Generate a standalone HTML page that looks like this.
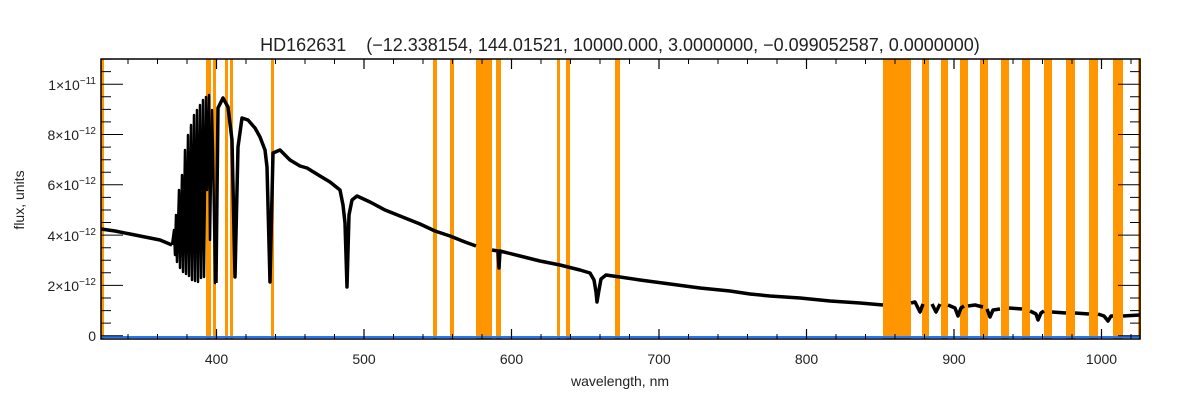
<!DOCTYPE html>
<html><head><meta charset="utf-8"><style>
html,body{margin:0;padding:0;background:#fff;}
svg{display:block;font-family:"Liberation Sans",sans-serif;}
</style></head><body>
<svg width="1200" height="400" viewBox="0 0 1200 400" xmlns="http://www.w3.org/2000/svg">
<rect width="1200" height="400" fill="#fff"/>
<g fill="#ff9600">
<rect x="101" y="59" width="3" height="280"/>
<rect x="206" y="59" width="5" height="280"/>
<rect x="213" y="59" width="3" height="280"/>
<rect x="225" y="59" width="3" height="280"/>
<rect x="230" y="59" width="3" height="280"/>
<rect x="271" y="59" width="3" height="280"/>
<rect x="433" y="59" width="4" height="280"/>
<rect x="450" y="59" width="4" height="280"/>
<rect x="476" y="59" width="16" height="280"/>
<rect x="496" y="59" width="5" height="280"/>
<rect x="557" y="59" width="3" height="280"/>
<rect x="566" y="59" width="4" height="280"/>
<rect x="615" y="59" width="5" height="280"/>
<rect x="883" y="59" width="28" height="280"/>
<rect x="922" y="59" width="7" height="280"/>
<rect x="941" y="59" width="7" height="280"/>
<rect x="960" y="59" width="8" height="280"/>
<rect x="980" y="59" width="8" height="280"/>
<rect x="1001" y="59" width="8" height="280"/>
<rect x="1022" y="59" width="8" height="280"/>
<rect x="1044" y="59" width="8" height="280"/>
<rect x="1066" y="59" width="9" height="280"/>
<rect x="1089" y="59" width="9" height="280"/>
<rect x="1113" y="59" width="10" height="280"/>
<rect x="1138" y="59" width="3" height="280"/>
</g>
<line x1="101" y1="337" x2="1140" y2="337" stroke="#1e78ff" stroke-width="2"/>
<g fill="none" stroke="#000" stroke-width="3.5" stroke-linejoin="round">
<polyline stroke-width="2.5" points="172,245 174,230 175,255 176,215 177,262 179,190 180,268 182,175 183,272 185,150 186,274 188,135 189,276 191,125 192,280 194,115 195,281 197,110 198,282 200,105 201,278 203,100 204,277 206,97 207,190 209,95 210,240 212,110 213,150 215,283 216,283"/>
<polyline points="101,229 115,231 130,234 145,237 160,240 172,245"/>
<polyline points="216,283 218,108 223,98 228,107 232,140 235,277 238,147 242,118 248,120 255,128 260,137 265,150 267,167 270,282 273,153 280,150 290,160 300,166 307,168 320,176 330,182 340,190 343,205 345,223 347,287 349,215 352,200 357,196 370,202 385,210 400,216 420,224 435,231 450,236 465,242 476,246"/>
<polyline points="492,250 498,251 499,268 500,251 520,256 540,261 560,265 580,270 590,273 594,280 596,292 597,302 599,290 601,279 606,275 620,277 640,280 670,284 700,288 730,291 750,294 770,296 800,298 830,301 860,303 883,305"/>
<polyline points="911,303 915,302 918,308 920,312 923,304"/>
<polyline points="932,304 936,312 940,304"/>
<polyline points="948,305 955,308 958,316 961,308 964,306"/>
<polyline points="968,306 975,305 983,307"/>
<polyline points="987,309 990,317 993,310 1000,309"/>
<polyline points="1009,308 1022,309"/>
<polyline points="1030,311 1036,314 1038,320 1041,313 1044,311"/>
<polyline points="1052,312 1066,313"/>
<polyline points="1075,313 1089,314"/>
<polyline points="1098,314 1104,316 1108,321 1111,316 1113,316"/>
<polyline points="1123,316 1140,315"/>
</g>
<rect x="101" y="59" width="1039" height="280" fill="none" stroke="#000" stroke-width="1.5"/>
<g stroke="#000" stroke-width="1.2">
<line x1="216.5" y1="339" x2="216.5" y2="329"/><line x1="216.5" y1="59" x2="216.5" y2="69"/>
<line x1="364" y1="339" x2="364" y2="329"/><line x1="364" y1="59" x2="364" y2="69"/>
<line x1="511.5" y1="339" x2="511.5" y2="329"/><line x1="511.5" y1="59" x2="511.5" y2="69"/>
<line x1="659" y1="339" x2="659" y2="329"/><line x1="659" y1="59" x2="659" y2="69"/>
<line x1="806.5" y1="339" x2="806.5" y2="329"/><line x1="806.5" y1="59" x2="806.5" y2="69"/>
<line x1="954" y1="339" x2="954" y2="329"/><line x1="954" y1="59" x2="954" y2="69"/>
<line x1="1101.5" y1="339" x2="1101.5" y2="329"/><line x1="1101.5" y1="59" x2="1101.5" y2="69"/>
</g>
<g stroke="#000" stroke-width="1">
<path d="M128.0 339v-5M157.5 339v-5M187.0 339v-5M246.0 339v-5M275.5 339v-5M305.0 339v-5M334.5 339v-5M393.5 339v-5M423.0 339v-5M452.5 339v-5M482.0 339v-5M541.0 339v-5M570.5 339v-5M600.0 339v-5M629.5 339v-5M688.5 339v-5M718.0 339v-5M747.5 339v-5M777.0 339v-5M836.0 339v-5M865.5 339v-5M895.0 339v-5M924.5 339v-5M983.5 339v-5M1013.0 339v-5M1042.5 339v-5M1072.0 339v-5M1131.0 339v-5
M128.0 59v5M157.5 59v5M187.0 59v5M246.0 59v5M275.5 59v5M305.0 59v5M334.5 59v5M393.5 59v5M423.0 59v5M452.5 59v5M482.0 59v5M541.0 59v5M570.5 59v5M600.0 59v5M629.5 59v5M688.5 59v5M718.0 59v5M747.5 59v5M777.0 59v5M836.0 59v5M865.5 59v5M895.0 59v5M924.5 59v5M983.5 59v5M1013.0 59v5M1042.5 59v5M1072.0 59v5M1131.0 59v5"/>
<path d="M101 335.7h22M101 285.4h22M101 235.1h22M101 184.8h22M101 134.5h22M101 84.2h22
M1140 335.7h-22M1140 285.4h-22M1140 235.1h-22M1140 184.8h-22M1140 134.5h-22M1140 84.2h-22
M101 323.1h10M101 310.6h10M101 298.0h10M101 272.8h10M101 260.3h10M101 247.7h10M101 222.5h10M101 210.0h10M101 197.4h10M101 172.2h10M101 159.7h10M101 147.1h10M101 121.9h10M101 109.4h10M101 96.8h10M101 71.6h10M101 59.1h10
M1140 323.1h-10M1140 310.6h-10M1140 298.0h-10M1140 272.8h-10M1140 260.3h-10M1140 247.7h-10M1140 222.5h-10M1140 210.0h-10M1140 197.4h-10M1140 172.2h-10M1140 159.7h-10M1140 147.1h-10M1140 121.9h-10M1140 109.4h-10M1140 96.8h-10M1140 71.6h-10"/>
</g>
<g font-size="14" fill="#222" text-anchor="middle">
<text x="216.5" y="364">400</text>
<text x="364" y="364">500</text>
<text x="511.5" y="364">600</text>
<text x="659" y="364">700</text>
<text x="806.5" y="364">800</text>
<text x="954" y="364">900</text>
<text x="1101.5" y="364">1000</text>
<text x="620" y="386">wavelength, nm</text>
<text x="24" y="200" transform="rotate(-90 24 200)">flux, units</text>
</g>
<g font-size="14" fill="#222" text-anchor="end">
<text x="96" y="341">0</text>
<text x="96" y="291">2×10<tspan font-size="10" dy="-6">−12</tspan></text>
<text x="96" y="241">4×10<tspan font-size="10" dy="-6">−12</tspan></text>
<text x="96" y="190">6×10<tspan font-size="10" dy="-6">−12</tspan></text>
<text x="96" y="140">8×10<tspan font-size="10" dy="-6">−12</tspan></text>
<text x="96" y="90">1×10<tspan font-size="10" dy="-6">−11</tspan></text>
</g>
<text x="620" y="51" font-size="18" fill="#222" text-anchor="middle" xml:space="preserve">HD162631    (−12.338154, 144.01521, 10000.000, 3.0000000, −0.099052587, 0.0000000)</text>
</svg>
</body></html>
